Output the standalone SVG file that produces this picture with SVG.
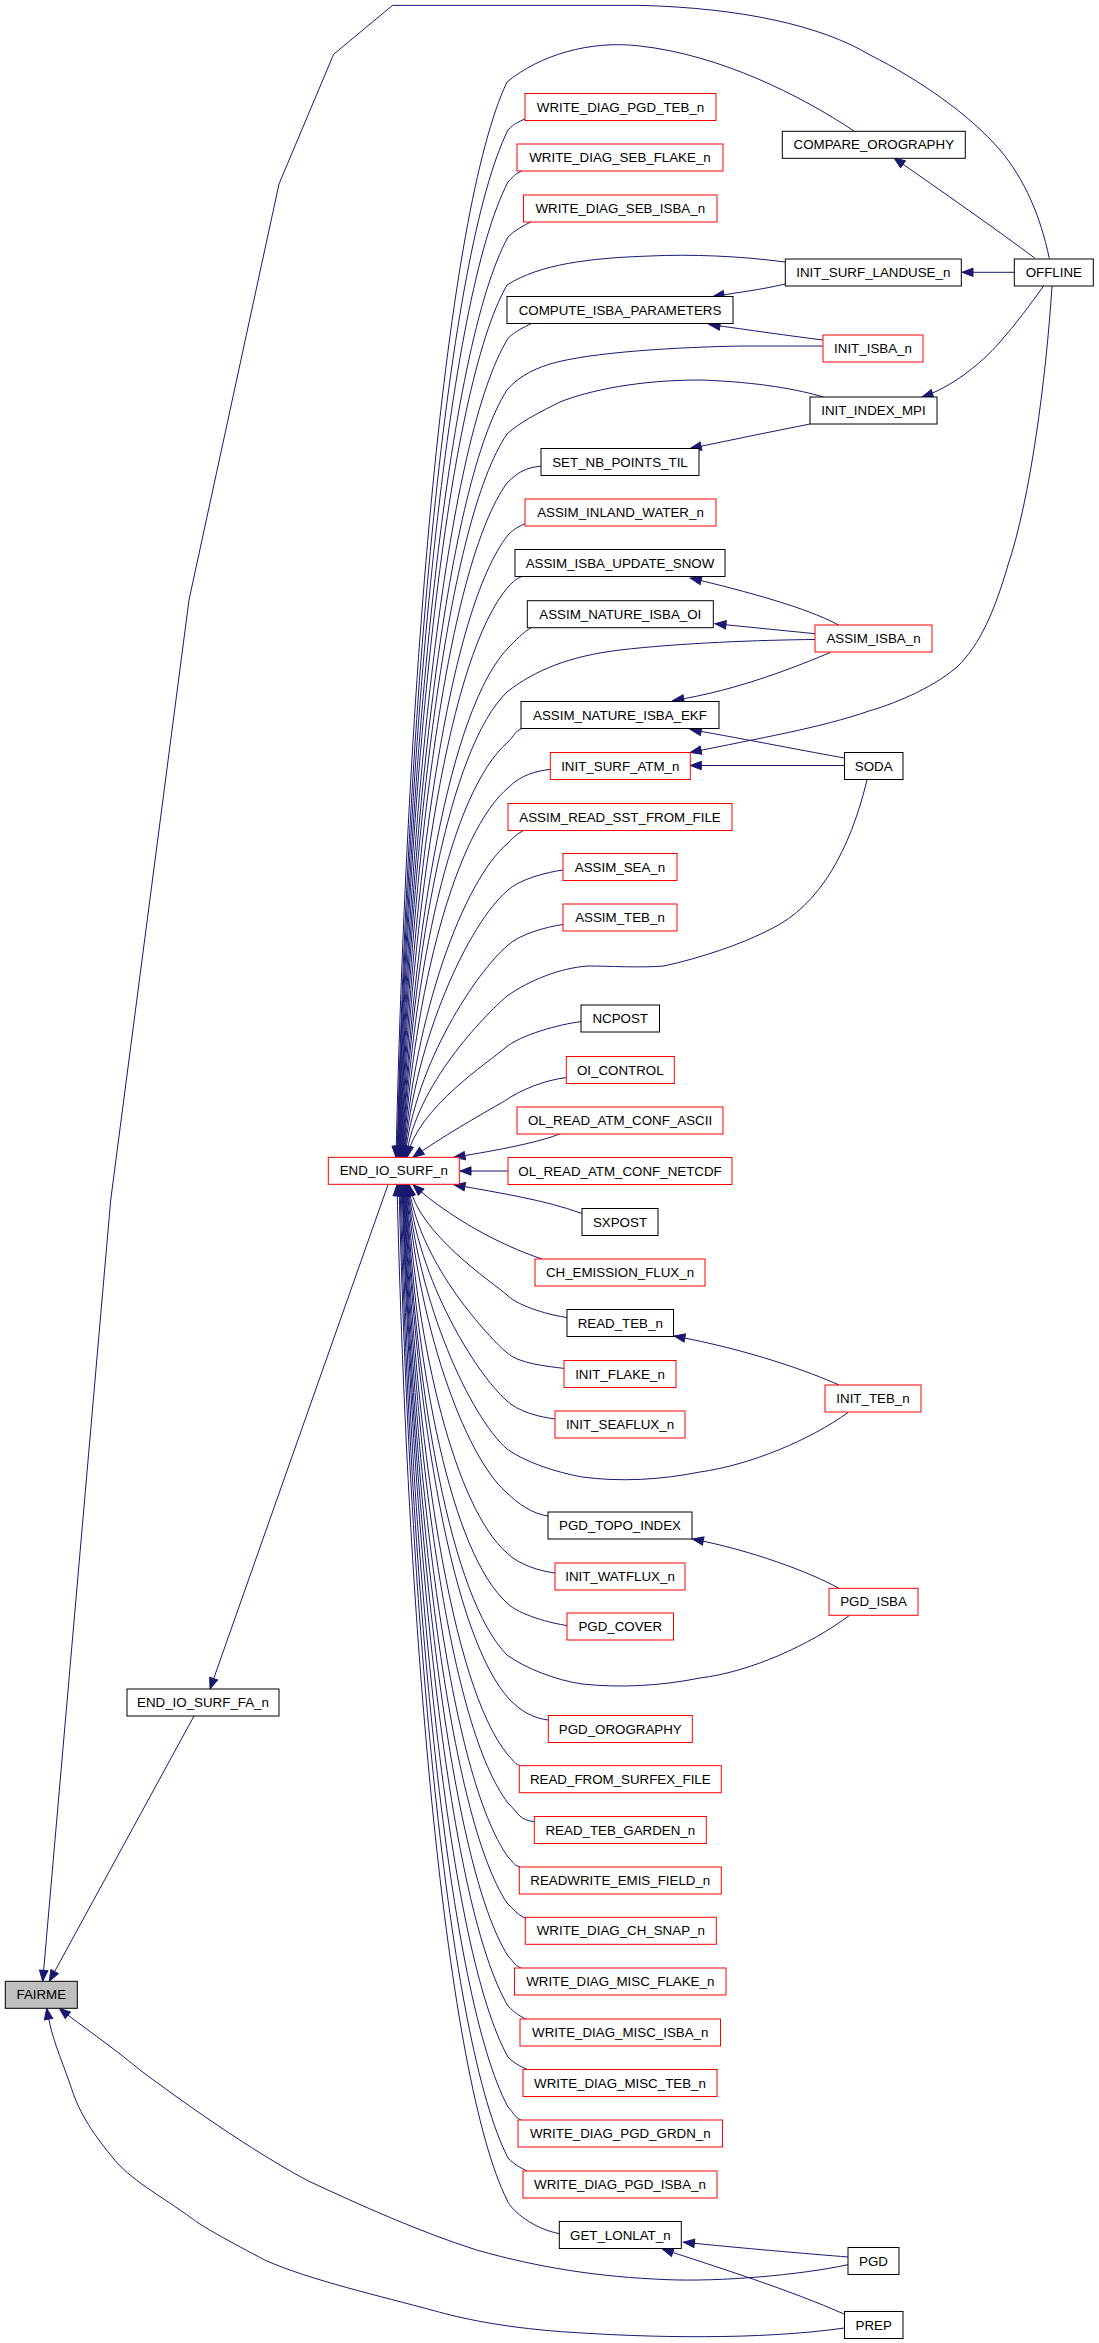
<svg xmlns="http://www.w3.org/2000/svg" width="1099" height="2343" viewBox="0 0 1099 2343">
<style>
.r{fill:#fff;stroke:#ff0000;stroke-width:1}
.b{fill:#fff;stroke:#000;stroke-width:1}
.g{fill:#bfbfbf;stroke:#000;stroke-width:1}
text{font-family:"Liberation Sans",Arial,Helvetica,sans-serif;font-size:13.33px;text-anchor:middle;fill:#000}
.e{fill:none;stroke:#191970;stroke-width:1;marker-end:url(#ah)}
</style>
<defs>
<marker id="ah" markerUnits="userSpaceOnUse" markerWidth="12" markerHeight="10" viewBox="0 0 12 10" refX="11" refY="5" orient="auto" overflow="visible">
<path d="M0,0.8 L11,5 L0,9.2 z" fill="#191970" stroke="#191970" stroke-width="1"/>
</marker>
</defs>
<rect x="0" y="0" width="1099" height="2343" fill="#fff"/>
<g id="edges">
<path class="e" d="M1049.3,258.3 C1040,215 1025,180 1000,150 C970,115 920,80 870,55 C820,25 740,8 641,5.4 L392.5,5.4 L333.6,54.3 L279,184 L189,600 L110.7,1200 L42.7,1981.3"/>
<path class="e" d="M194,1716 L49.3,1981.3"/>
<path class="e" d="M388,1184.7 L210,1689"/>
<path class="e" d="M848,2264.7 C800,2275 720,2282 666,2279.6 C600,2277 540,2268 476.6,2250 C420,2232 360,2205 308.4,2181 C250,2150 180,2100 140,2070 C110,2045 80,2025 59.3,2008.3"/>
<path class="e" d="M844.5,2328 C760,2340 650,2338 560.7,2331.6 C500,2327 460,2318 434.5,2310.8 C380,2296 310,2280 266,2260.6 C230,2242 200,2225 192.7,2219 C160,2195 130,2180 112,2156.7 C90,2130 78,2110 70,2084 C60,2055 52,2040 46.7,2008.3"/>
<path class="e" d="M1035,258.3 C1000,232 940,190 894,158"/>
<path class="e" d="M1014.3,272.3 L962,272.3"/>
<path class="e" d="M1044,285.5 C1030,305 1015,325 1000,342 C980,365 950,388 922,397"/>
<path class="e" d="M1052,286 C1046,380 1030,500 1008,565 C995,610 980,645 957,667 C930,690 890,705 869,711 C820,728 760,738 690.3,752.5"/>
<path class="e" d="M810,424 C770,432 730,440 690.3,448.5"/>
<path class="e" d="M785,284 C760,290 740,292 713,296.6"/>
<path class="e" d="M823,340 C790,336 750,330 709,324.5"/>
<path class="e" d="M839,625.3 C815,612 770,597 690.3,578"/>
<path class="e" d="M815,633.7 L715,623.7"/>
<path class="e" d="M830.5,652.4 C800,665 740,690 672.8,700.6"/>
<path class="e" d="M844.5,758 C810,752 750,740 690.3,729.5"/>
<path class="e" d="M844.5,765.5 L690.3,765.5"/>
<path class="e" d="M839,1385 C810,1372 750,1350 674,1336"/>
<path class="e" d="M839,1588.4 C810,1572 750,1550 692.4,1539"/>
<path class="e" d="M848,2257 C810,2254 740,2248 683.4,2242.2"/>
<path class="e" d="M844.5,2314.2 C790,2290 720,2268 662.3,2249"/>
<path class="e" d="M854,131 C800,95 720,55 640,46 C590,40 540,55 507,82 C445.9,211 407.1,673.4 396,1157.3"/>
<path class="e" d="M525.3,118.7 C517.3,122.7 515,123 508,130 C446.9,253.3 408.1,695 397,1157.3"/>
<path class="e" d="M521.7,171 C513.7,175 515,175 508,182 C447.2,299 408.6,718.4 397.5,1157.3"/>
<path class="e" d="M531.7,221.5 C523.7,225.5 515,230 508,237 C447.5,347.4 409,743.2 398,1157.3"/>
<path class="e" d="M785,262 C740,256 690,254 650,256 C590,258 540,264 507,285 C447.3,389.7 409.4,764.8 398.5,1157.3"/>
<path class="e" d="M531.7,323.4 C523.7,327.4 515,331.3 508,338.3 C448,436.6 409.9,788.8 399,1157.3"/>
<path class="e" d="M823,346 L743,346 C680,347 590,352 550,364 C530,370 515,380 507,390 C447.9,482.1 410.3,812 399.5,1157.3"/>
<path class="e" d="M823.5,397 C800,390 760,382 700,380 C640,380 590,390 560,402 C540,412 520,422 507,434 C448.2,520.8 410.7,831.8 400,1157.3"/>
<path class="e" d="M541,466 C526,468 519,471 507,483 C448.4,563.9 411.2,853.9 400.5,1157.3"/>
<path class="e" d="M525.3,523.5 C517.3,527.5 515,528 508,535 C449.2,609.7 411.7,877.3 401,1157.3"/>
<path class="e" d="M521.7,576.5 C513.7,580.5 515,580 508,587 C449.4,655.4 412.2,900.7 401.5,1157.3"/>
<path class="e" d="M531.7,627.5 C523.7,631.5 515,641 508,648 C449.7,709.1 412.6,928.1 402,1157.3"/>
<path class="e" d="M815,639.5 C760,640 680,643 620,650 C570,656 535,670 507,692 C449.5,747.8 413,947.9 402.5,1157.3"/>
<path class="e" d="M521.7,728.5 C513.7,732.5 515,735 508,742 C450.3,791.8 413.5,970.4 403,1157.3"/>
<path class="e" d="M550.3,769.3 C535.3,771.3 521,775 509,787 C455.3,831.4 414,990.7 403.5,1157.3"/>
<path class="e" d="M525,829.8 C517,833.8 515,836 508,843 C463,880.7 414.4,1015.9 404,1157.3"/>
<path class="e" d="M563,870 C548,872 519,879 507,891 C469.5,923 414.8,1037.5 404.5,1157.3"/>
<path class="e" d="M563,924.5 C548,926.5 519,934 507,946 C477.4,971.4 415.2,1062.2 405,1157.3"/>
<path class="e" d="M867,780 C850,850 820,905 771,929 C740,945 700,958 664,966 C640,968 610,966 588,966 C560,968 530,980 507,996 C484.6,1015.4 416.1,1084.7 406,1157.3"/>
<path class="e" d="M581,1021.7 C560,1024 520,1035 505,1048 C490.3,1061.1 416.8,1108.1 407,1157.3"/>
<path class="e" d="M566.3,1077.6 C545,1080 520,1090 504.6,1101 C480,1115 440,1138 413,1157.3"/>
<path class="e" d="M561,1133.5 C540,1142 500,1150 454,1157.3"/>
<path class="e" d="M508,1171 L460,1171"/>
<path class="e" d="M582,1213.5 C545,1200 500,1193 454,1184.7"/>
<path class="e" d="M542,1259 C500,1245 450,1218 413,1184.7"/>
<path class="e" d="M567,1317.5 C552,1315.5 519,1307 507,1295 C492.1,1281.8 418.8,1234.3 409,1184.7"/>
<path class="e" d="M564,1368.4 C549,1366.4 518,1364 506,1352 C483.6,1331.9 418.3,1260 408.5,1184.7"/>
<path class="e" d="M555,1419 C540,1417 518,1412 506,1400 C477,1374.2 417.8,1281.6 408,1184.7"/>
<path class="e" d="M848,1412.5 C810,1440 750,1465 700,1472 C660,1480 620,1482 582,1477 C555,1472 525,1462 507,1449 C470.8,1417.3 417.5,1303.6 407.5,1184.7"/>
<path class="e" d="M548,1516 C533,1514 518,1504 506,1492 C464.2,1455.1 416.9,1323 407,1184.7"/>
<path class="e" d="M555,1573 C540,1571 519,1565 507,1553 C456.1,1508.8 416.6,1350.4 406.5,1184.7"/>
<path class="e" d="M567,1625.5 C552,1623.5 519,1615 507,1603 C451.5,1552.8 416.1,1373 406,1184.7"/>
<path class="e" d="M850,1615 C810,1645 750,1672 700,1678 C660,1686 620,1688 582,1684 C555,1680 525,1668 507,1655 C451.2,1598.6 415.7,1396.3 405.5,1184.7"/>
<path class="e" d="M548.3,1720 C533.3,1718 522,1712 510,1700 C452.3,1638.2 415.5,1416.6 405,1184.7"/>
<path class="e" d="M520,1765.7 C512,1761.7 515,1762 508,1755 C451.1,1686.6 414.9,1441.3 404.5,1184.7"/>
<path class="e" d="M534.3,1821.7 C519.3,1819.7 520,1815 508,1803 C450.8,1728.8 414.4,1462.9 404,1184.7"/>
<path class="e" d="M520,1867.3 C512,1863.3 515,1864 508,1857 C450.5,1776.3 414,1487.2 403.5,1184.7"/>
<path class="e" d="M525.3,1918.3 C517.3,1914.3 514,1910 507,1903 C449.8,1816.8 413.4,1507.9 403,1184.7"/>
<path class="e" d="M521,1968 C513,1964 515,1963 508,1956 C450,1863.4 413.1,1531.8 402.5,1184.7"/>
<path class="e" d="M526,2019 C518,2015 515,2013 508,2006 C449.7,1907.4 412.6,1554.3 402,1184.7"/>
<path class="e" d="M527,2069.4 C519,2065.4 515,2064 508,2057 C449.2,1952.3 411.7,1577.2 401,1184.7"/>
<path class="e" d="M521,2120 C513,2116 515,2114 508,2107 C448.6,1996.3 410.8,1599.7 400,1184.7"/>
<path class="e" d="M527,2171 C519,2167 515,2165 508,2158 C448,2041.2 409.9,1622.7 399,1184.7"/>
<path class="e" d="M559,2233.6 C535,2229 512,2212 507,2200 C446.5,2078.2 408,1641.6 397,1184.7"/>
</g>
<g id="n_wdpgdteb"><rect class="r" x="525" y="93.5" width="191" height="27"/><text x="620.5" y="111.6">WRITE_DIAG_PGD_TEB_n</text></g>
<g id="n_compare"><rect class="b" x="782.3" y="131.3" width="183" height="27"/><text x="873.8" y="149.4">COMPARE_OROGRAPHY</text></g>
<g id="n_wdsebflake"><rect class="r" x="517" y="144" width="206" height="27"/><text x="620" y="162.1">WRITE_DIAG_SEB_FLAKE_n</text></g>
<g id="n_wdsebisba"><rect class="r" x="523.5" y="195" width="193.5" height="27"/><text x="620.25" y="213.1">WRITE_DIAG_SEB_ISBA_n</text></g>
<g id="n_landuse"><rect class="b" x="785.3" y="259" width="176" height="27"/><text x="873.3" y="277.1">INIT_SURF_LANDUSE_n</text></g>
<g id="n_offline"><rect class="b" x="1014.3" y="259" width="79" height="27"/><text x="1053.8" y="277.1">OFFLINE</text></g>
<g id="n_compute"><rect class="b" x="507" y="296.5" width="226" height="27"/><text x="620" y="314.6">COMPUTE_ISBA_PARAMETERS</text></g>
<g id="n_initisba"><rect class="r" x="823" y="335" width="100" height="27"/><text x="873" y="353.1">INIT_ISBA_n</text></g>
<g id="n_initindex"><rect class="b" x="810" y="397" width="127" height="27"/><text x="873.5" y="415.1">INIT_INDEX_MPI</text></g>
<g id="n_setnb"><rect class="b" x="541" y="448.5" width="158" height="27"/><text x="620" y="466.6">SET_NB_POINTS_TIL</text></g>
<g id="n_inland"><rect class="r" x="525" y="499" width="191" height="27"/><text x="620.5" y="517.1">ASSIM_INLAND_WATER_n</text></g>
<g id="n_snow"><rect class="b" x="515" y="549.5" width="210" height="27"/><text x="620" y="567.6">ASSIM_ISBA_UPDATE_SNOW</text></g>
<g id="n_oi"><rect class="b" x="527.3" y="600.7" width="186" height="27"/><text x="620.3" y="618.8">ASSIM_NATURE_ISBA_OI</text></g>
<g id="n_assimisba"><rect class="r" x="815" y="625" width="117" height="27"/><text x="873.5" y="643.1">ASSIM_ISBA_n</text></g>
<g id="n_ekf"><rect class="b" x="521" y="701.5" width="198" height="27"/><text x="620" y="719.6">ASSIM_NATURE_ISBA_EKF</text></g>
<g id="n_initsurfatm"><rect class="r" x="550.3" y="752.5" width="140" height="27"/><text x="620.3" y="770.6">INIT_SURF_ATM_n</text></g>
<g id="n_soda"><rect class="b" x="844.5" y="752.5" width="58.5" height="27"/><text x="873.75" y="770.6">SODA</text></g>
<g id="n_sst"><rect class="r" x="508" y="803.5" width="224" height="27"/><text x="620" y="821.6">ASSIM_READ_SST_FROM_FILE</text></g>
<g id="n_sea"><rect class="r" x="563" y="853.5" width="114" height="27"/><text x="620" y="871.6">ASSIM_SEA_n</text></g>
<g id="n_teb"><rect class="r" x="563" y="904" width="114" height="27"/><text x="620" y="922.1">ASSIM_TEB_n</text></g>
<g id="n_ncpost"><rect class="b" x="581" y="1005" width="78.5" height="27"/><text x="620.25" y="1023.1">NCPOST</text></g>
<g id="n_oicontrol"><rect class="r" x="566.3" y="1056.5" width="108" height="27"/><text x="620.3" y="1074.6">OI_CONTROL</text></g>
<g id="n_ascii"><rect class="r" x="517" y="1107" width="206" height="27"/><text x="620" y="1125.1">OL_READ_ATM_CONF_ASCII</text></g>
<g id="n_endio"><rect class="r" x="328.3" y="1157.3" width="131" height="27"/><text x="393.8" y="1175.4">END_IO_SURF_n</text></g>
<g id="n_netcdf"><rect class="r" x="508" y="1157.5" width="224" height="27"/><text x="620" y="1175.6">OL_READ_ATM_CONF_NETCDF</text></g>
<g id="n_sxpost"><rect class="b" x="582" y="1208.5" width="76" height="27"/><text x="620" y="1226.6">SXPOST</text></g>
<g id="n_chemis"><rect class="r" x="535" y="1259" width="170" height="27"/><text x="620" y="1277.1">CH_EMISSION_FLUX_n</text></g>
<g id="n_readteb"><rect class="b" x="567" y="1309.5" width="106.5" height="27"/><text x="620.25" y="1327.6">READ_TEB_n</text></g>
<g id="n_initflake"><rect class="r" x="564" y="1360.5" width="112" height="27"/><text x="620" y="1378.6">INIT_FLAKE_n</text></g>
<g id="n_initteb"><rect class="r" x="825" y="1385" width="96" height="27"/><text x="873" y="1403.1">INIT_TEB_n</text></g>
<g id="n_initseaflux"><rect class="r" x="555" y="1411" width="130" height="27"/><text x="620" y="1429.1">INIT_SEAFLUX_n</text></g>
<g id="n_topo"><rect class="b" x="548" y="1512" width="144" height="27"/><text x="620" y="1530.1">PGD_TOPO_INDEX</text></g>
<g id="n_initwatflux"><rect class="r" x="555" y="1563" width="130" height="27"/><text x="620" y="1581.1">INIT_WATFLUX_n</text></g>
<g id="n_pgdisba"><rect class="r" x="829" y="1588.3" width="89" height="27"/><text x="873.5" y="1606.4">PGD_ISBA</text></g>
<g id="n_pgdcover"><rect class="r" x="567" y="1613" width="106.5" height="27"/><text x="620.25" y="1631.1">PGD_COVER</text></g>
<g id="n_endiofa"><rect class="b" x="127" y="1689" width="152" height="27"/><text x="203" y="1707.1">END_IO_SURF_FA_n</text></g>
<g id="n_pgdoro"><rect class="r" x="548.3" y="1715.5" width="144" height="27"/><text x="620.3" y="1733.6">PGD_OROGRAPHY</text></g>
<g id="n_surfex"><rect class="r" x="519.3" y="1765.7" width="202" height="27"/><text x="620.3" y="1783.8">READ_FROM_SURFEX_FILE</text></g>
<g id="n_garden"><rect class="r" x="534.3" y="1816.5" width="172" height="27"/><text x="620.3" y="1834.6">READ_TEB_GARDEN_n</text></g>
<g id="n_emis"><rect class="r" x="519.3" y="1867" width="202" height="27"/><text x="620.3" y="1885.1">READWRITE_EMIS_FIELD_n</text></g>
<g id="n_chsnap"><rect class="r" x="525.3" y="1917.3" width="191" height="27"/><text x="620.8" y="1935.4">WRITE_DIAG_CH_SNAP_n</text></g>
<g id="n_fairme"><rect class="g" x="5.3" y="1981.3" width="72" height="27"/><text x="41.3" y="1999.4">FAIRME</text></g>
<g id="n_miscflake"><rect class="r" x="514.5" y="1968" width="211.5" height="27"/><text x="620.25" y="1986.1">WRITE_DIAG_MISC_FLAKE_n</text></g>
<g id="n_miscisba"><rect class="r" x="520" y="2019" width="200.5" height="27"/><text x="620.25" y="2037.1">WRITE_DIAG_MISC_ISBA_n</text></g>
<g id="n_miscteb"><rect class="r" x="523" y="2069.5" width="194" height="27"/><text x="620" y="2087.6">WRITE_DIAG_MISC_TEB_n</text></g>
<g id="n_pgdgrdn"><rect class="r" x="518" y="2120" width="204.5" height="27"/><text x="620.25" y="2138.1">WRITE_DIAG_PGD_GRDN_n</text></g>
<g id="n_pgdisban"><rect class="r" x="523" y="2171" width="194" height="27"/><text x="620" y="2189.1">WRITE_DIAG_PGD_ISBA_n</text></g>
<g id="n_getlonlat"><rect class="b" x="559.3" y="2221.5" width="122" height="27"/><text x="620.3" y="2239.6">GET_LONLAT_n</text></g>
<g id="n_pgd"><rect class="b" x="848" y="2247.5" width="51" height="27"/><text x="873.5" y="2265.6">PGD</text></g>
<g id="n_prep"><rect class="b" x="844.5" y="2311.5" width="58.5" height="27"/><text x="873.75" y="2329.6">PREP</text></g>
</svg>
